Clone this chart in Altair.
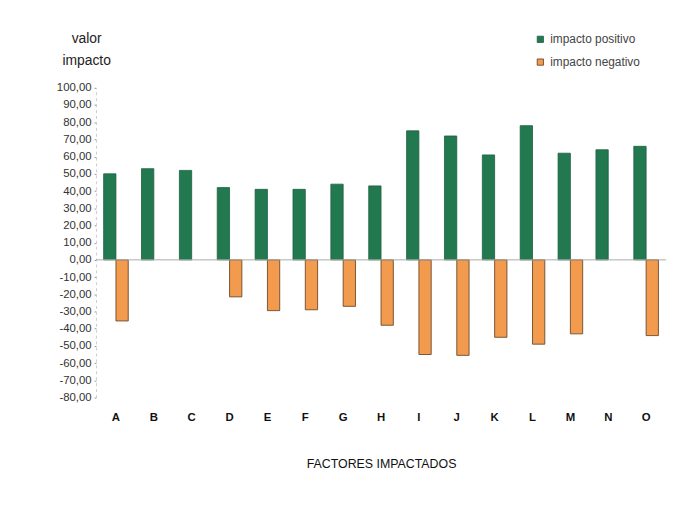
import altair as alt
import pandas as pd

categories = ["A", "B", "C", "D", "E", "F", "G", "H", "I", "J", "K", "L", "M", "N", "O"]
positivo = [50, 53, 52, 42, 41, 41, 44, 43, 75, 72, 61, 78, 62, 64, 66]
negativo = [-35.5, 0, 0, -21.5, -29.5, -29, -27, -38, -55, -55.5, -45, -49, -43, 0, -44]
series = ["impacto positivo", "impacto negativo"]
y_ticks = list(range(-80, 101, 10))

rows = []
for c, p, n in zip(categories, positivo, negativo):
    rows.append({"factor": c, "serie": series[0], "valor": p})
    rows.append({"factor": c, "serie": series[1], "valor": n})
df = pd.DataFrame(rows)

FONT = "Liberation Sans"

y_axis = alt.Axis(values=y_ticks, grid=False, labelOverlap=False, labelFlush=False,
                  labelExpr="(datum.value < 0 ? '-' : '') + replace(format(abs(datum.value), '.2f'), '.', ',')",
                  labelFontSize=11.5, labelColor="#333", labelFont=FONT,
                  labelPadding=3, tickSize=2, tickColor="#999",
                  domainColor="#ccc", domainDash=[3, 3],
                  title=["valor", "impacto"], titleAngle=0, titleAlign="center",
                  titleBaseline="top", titleX=-10, titleY=-57,
                  titleFontSize=14, titleFontWeight="normal", titleColor="#222",
                  titleLineHeight=22, titleFont=FONT)
y_scale = alt.Scale(domain=[-80, 100], nice=False, zero=False)

bars = alt.Chart(df).transform_filter("datum.valor != 0").mark_bar(strokeWidth=0.8).encode(
    x=alt.X("factor:N", sort=categories,
            scale=alt.Scale(domain=categories, paddingInner=0.35, paddingOuter=0.2),
            axis=alt.Axis(title="FACTORES IMPACTADOS", labelAngle=0, domain=False, ticks=False,
                          labelFontSize=11.5, labelColor="#111", labelPadding=14,
                          labelFontWeight="bold",
                          titleFontSize=12.5, titleFontWeight="normal", titleColor="#111",
                          titlePadding=35, labelFont=FONT, titleFont=FONT)),
    xOffset=alt.XOffset("serie:N", sort=series, scale=alt.Scale(domain=series, paddingInner=0)),
    y=alt.Y("valor:Q", scale=y_scale, axis=y_axis),
    fill=alt.Fill("serie:N", sort=series,
                  scale=alt.Scale(domain=series, range=["#23794f", "#f29a4e"]),
                  legend=alt.Legend(title=None, orient="none", legendX=443, legendY=-55,
                                    symbolType="square", symbolSize=40,
                                    symbolStrokeColor="#444", symbolStrokeWidth=0.8,
                                    labelFontSize=12, labelColor="#444", labelFont=FONT,
                                    rowPadding=11, labelOffset=4)),
    stroke=alt.Stroke("serie:N", sort=series,
                      scale=alt.Scale(domain=series, range=["#1d5f3f", "#5a3a1c"]),
                      legend=None),
)

zero = alt.Chart(pd.DataFrame({"valor": [0]})).mark_rule(color="#aaa", strokeWidth=1).encode(
    y=alt.Y("valor:Q", scale=y_scale, axis=y_axis)
)

chart = alt.layer(bars, zero).properties(
    width=576, height=313,
    padding={"left": 89, "top": 78, "right": 0, "bottom": 110},
    autosize=alt.AutoSizeParams(type="none"),
    background="white",
).configure_view(stroke=None)

chart.save("out.html", embed_options={"renderer": "svg", "actions": False})
